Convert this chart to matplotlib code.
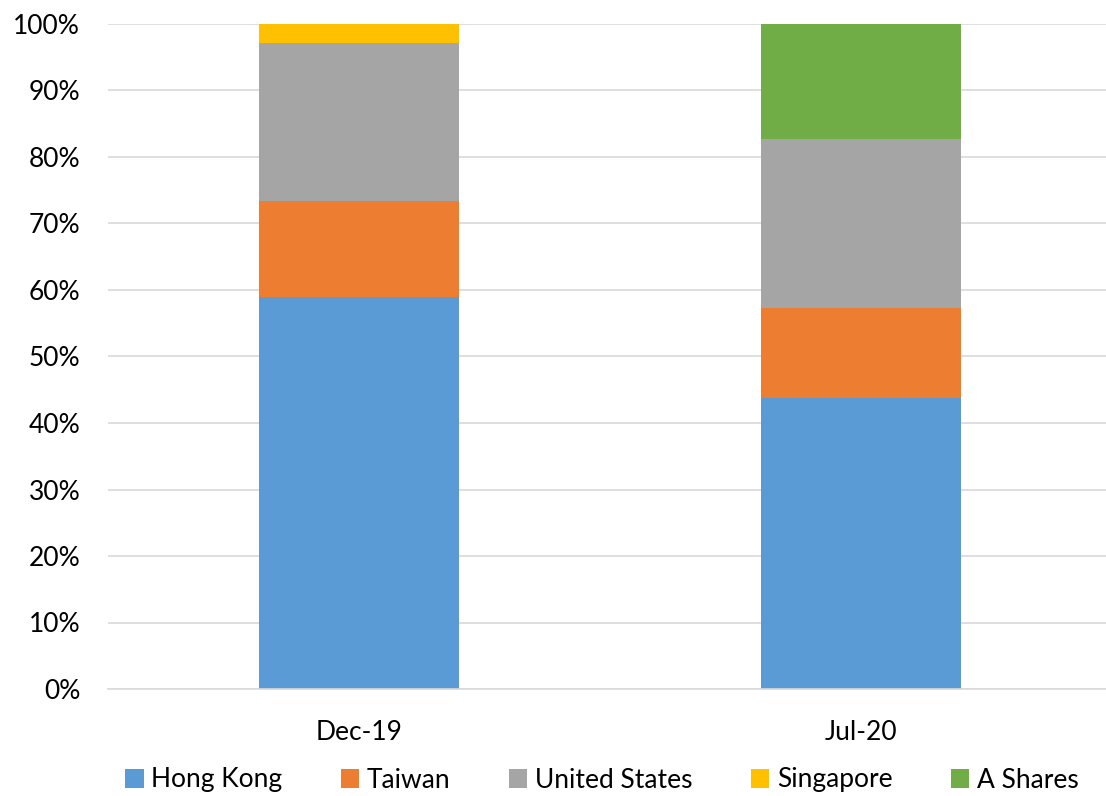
import matplotlib
matplotlib.use("Agg")
import matplotlib.pyplot as plt
import numpy as np
from matplotlib.ticker import PercentFormatter

categories = ["Dec-19", "Jul-20"]
series_names = ["Hong Kong", "Taiwan", "United States", "Singapore", "A Shares"]
hong_kong = [59.0, 43.7]
taiwan = [14.4, 13.6]
united_states = [23.7, 25.4]
singapore = [2.9, 0.0]
a_shares = [0.0, 17.3]
colors = ["#5B9BD5", "#ED7D31", "#A5A5A5", "#FFC000", "#70AD47"]

plt.rcParams['font.family'] = ['Lato', 'DejaVu Sans']

fig = plt.figure(figsize=(11.06, 7.96), dpi=100)
ax = fig.add_axes([108/1106, (796-689)/796, 1 - 108/1106, (689-24)/796])

x = np.arange(len(categories))
bottom = np.zeros(len(categories))
handles = []
for name, vals, c in zip(series_names, [hong_kong, taiwan, united_states, singapore, a_shares], colors):
    v = np.array(vals)
    b = ax.bar(x, v, 0.398, bottom=bottom, color=c, label=name, zorder=2)
    handles.append(b)
    bottom += v

ax.set_ylim(0, 100)
ax.set_xlim(-0.5, 1.487)
ax.set_yticks(np.arange(0, 101, 10))
ax.yaxis.set_major_formatter(PercentFormatter(decimals=0))
ax.set_xticks(x)
ax.set_xticklabels(categories)
ax.grid(axis='y', color='#d9d9d9', linewidth=1.2, zorder=0)
for s in ['top', 'right', 'left']:
    ax.spines[s].set_visible(False)
ax.spines['bottom'].set_color('#d9d9d9')
ax.spines['bottom'].set_linewidth(1.2)
ax.tick_params(axis='both', length=0, labelsize=19, colors='#000000')
ax.tick_params(axis='x', pad=22)
ax.tick_params(axis='y', pad=20)

leg = fig.legend(handles=handles, labels=series_names, loc='center', ncol=5, frameon=False,
                 fontsize=19, handlelength=0.7, handleheight=0.7,
                 handletextpad=0.3, columnspacing=2.2)
leg.set_bbox_to_anchor((602/1106, (796-780)/796), transform=fig.transFigure)

fig.savefig("out.png", dpi=100)
